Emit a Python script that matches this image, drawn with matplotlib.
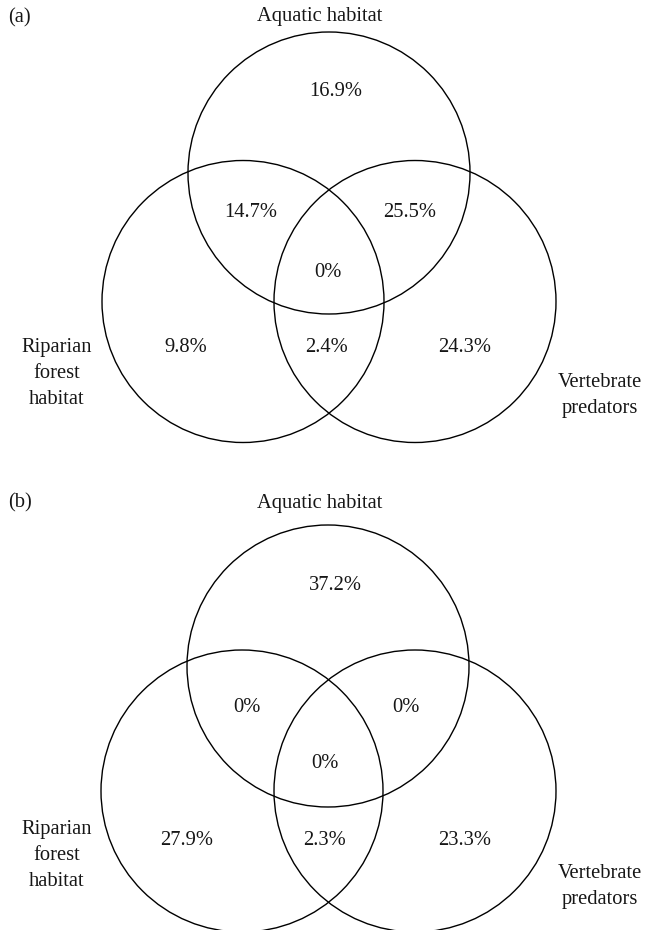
import matplotlib
matplotlib.use("Agg")
import matplotlib.pyplot as plt
from matplotlib.patches import Circle

# Venn regions: A = aquatic habitat, R = riparian forest habitat, V = vertebrate predators
regions = ["A", "AR", "AV", "ARV", "R", "RV", "V"]
pct_a = [16.9, 14.7, 25.5, 0, 9.8, 2.4, 24.3]
pct_b = [37.2, 0, 0, 0, 27.9, 2.3, 23.3]
panel_tags = ["(a)", "(b)"]
set_top = "Aquatic habitat"
set_left = "Riparian\nforest\nhabitat"
set_right = "Vertebrate\npredators"

W, H = 646, 930
fig = plt.figure(figsize=(W / 100, H / 100), dpi=100)
ax = fig.add_axes([0, 0, 1, 1])
ax.set_xlim(0, W)
ax.set_ylim(H, 0)
ax.axis("off")

FONT = dict(family="Liberation Serif", size=14.8, color="#161616")
R = 141

# pixel layout of each panel
layouts = [
    dict(tag=(8, 18), top_lbl=(320, 17),
         c_top=(329, 173), c_left=(243, 301.5), c_right=(415, 301.5),
         left_lbl=(57, 373), right_lbl=(600, 395),
         pos={"A": (336, 92), "AR": (251, 212), "AV": (410, 212), "ARV": (328, 272),
              "R": (186, 347), "RV": (326, 347), "V": (465, 347)}),
    dict(tag=(8, 503), top_lbl=(320, 503),
         c_top=(328, 666), c_left=(242, 791), c_right=(415, 791),
         left_lbl=(57, 855), right_lbl=(600, 886),
         pos={"A": (335, 585), "AR": (247, 707), "AV": (406, 707), "ARV": (325, 763),
              "R": (187, 840), "RV": (325, 840), "V": (465, 840)}),
]

def fmt(v):
    return f"{v:g}%"

for tag, vals, lay in zip(panel_tags, [pct_a, pct_b], layouts):
    for key in ("c_top", "c_left", "c_right"):
        ax.add_patch(Circle(lay[key], R, fill=False, ec="black", lw=1.0))
    ax.text(*lay["tag"], tag, ha="left", va="center", **FONT)
    ax.text(*lay["top_lbl"], set_top, ha="center", va="center", **FONT)
    ax.text(*lay["left_lbl"], set_left, ha="center", va="center",
            linespacing=1.5, **FONT)
    ax.text(*lay["right_lbl"], set_right, ha="center", va="center",
            linespacing=1.5, **FONT)
    for reg, v in zip(regions, vals):
        ax.text(*lay["pos"][reg], fmt(v), ha="center", va="center", **FONT)

fig.savefig("out.png", dpi=100)
